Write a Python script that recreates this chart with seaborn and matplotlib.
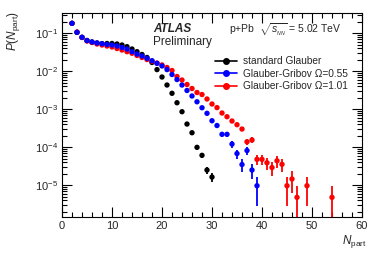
import numpy as np
import pandas as pd
import matplotlib
matplotlib.use("Agg")
import matplotlib.pyplot as plt
from matplotlib.lines import Line2D
from matplotlib.ticker import MultipleLocator, LogLocator, NullFormatter
import seaborn as sns

# standard Glauber
npart_std = list(range(2, 31))
p_std = [0.183, 0.106, 0.0785, 0.0646, 0.0590, 0.0556, 0.0532, 0.0539, 0.0539,
         0.0523, 0.0492, 0.0444, 0.0386, 0.0328, 0.0277, 0.0231, 0.0171,
         0.0111, 0.00708, 0.00436, 0.00264, 0.00149, 0.000865, 0.000410,
         0.000242, 0.000100, 0.0000616, 0.0000253, 0.0000165]
err_std = [0] * 23 + [2.3e-5, 1.7e-5, 1.1e-5, 8.8e-6, 5.6e-6, 4.6e-6]

# Glauber-Gribov Omega=0.55
npart_gg055 = list(range(2, 40))
p_gg055 = [0.183, 0.106, 0.0785, 0.0646, 0.0590, 0.0556, 0.0532, 0.0507, 0.0492,
           0.0463, 0.0423, 0.0386, 0.0328, 0.0285, 0.0253, 0.0220, 0.0190,
           0.0162, 0.0138, 0.0111, 0.00824, 0.00608, 0.00436, 0.00313,
           0.00224, 0.00158, 0.00110, 0.000785, 0.000501, 0.000375, 0.000220,
           0.000220, 0.000122, 0.0000687, 0.0000353, 0.0000824, 0.0000253,
           0.00000977]
err_gg055 = [0] * 28 + [4.9e-5, 4.2e-5, 3.2e-5, 3.2e-5, 2.4e-5, 1.8e-5, 1.3e-5,
                        2.0e-5, 1.1e-5, 6.9e-6]

# Glauber-Gribov Omega=1.01
npart_gg101 = list(range(2, 48)) + [49, 54]
p_gg101 = [0.183, 0.108, 0.0775, 0.0627, 0.0573, 0.0523, 0.0492, 0.0463, 0.0436,
           0.0398, 0.0363, 0.0328, 0.0298, 0.0261, 0.0231, 0.0204, 0.0184,
           0.0165, 0.0147, 0.0126, 0.0105, 0.00730, 0.00590, 0.00450, 0.00353,
           0.00277, 0.00245, 0.00187, 0.00138, 0.00111, 0.000800, 0.000639,
           0.000492, 0.000394, 0.000303, 0.000140, 0.000156, 0.0000483,
           0.0000483, 0.0000393, 0.0000294, 0.0000443, 0.0000357, 0.00000977,
           0.0000147, 0.00000483, 0.00000977, 0.00000483]
err_gg101 = [0] * 32 + [4.9e-5, 4.3e-5, 3.8e-5, 2.6e-5, 2.8e-5, 1.5e-5, 1.5e-5,
                        1.4e-5, 1.2e-5, 1.5e-5, 1.35e-5, 6.9e-6, 8.5e-6,
                        4.83e-6, 6.9e-6, 4.83e-6]

labels = ["standard Glauber", "Glauber-Gribov \u03a9=0.55", "Glauber-Gribov \u03a9=1.01"]
colors = ["black", "#0000ff", "#ff0000"]

df = pd.concat([
    pd.DataFrame({"npart": npart_std, "p": p_std, "err": err_std, "model": labels[0]}),
    pd.DataFrame({"npart": npart_gg101, "p": p_gg101, "err": err_gg101, "model": labels[2]}),
    pd.DataFrame({"npart": npart_gg055, "p": p_gg055, "err": err_gg055, "model": labels[1]}),
])

sns.set_theme(style="ticks")
plt.rcParams["font.family"] = ["Liberation Sans", "DejaVu Sans"]
plt.rcParams["mathtext.fontset"] = "custom"
plt.rcParams["mathtext.rm"] = "Liberation Sans"
plt.rcParams["mathtext.it"] = "Liberation Sans:italic"

fig = plt.figure(figsize=(3.82, 2.59), dpi=100)
ax = fig.add_axes([62 / 382, 1 - 217 / 259, 300 / 382, 204 / 259])

palette = dict(zip(labels, colors))
for name in [labels[0], labels[2], labels[1]]:
    sub = df[df["model"] == name]
    ax.errorbar(sub["npart"], sub["p"], yerr=sub["err"], fmt="none",
                ecolor=palette[name], elinewidth=1.3, capsize=0)
sns.scatterplot(data=df, x="npart", y="p", hue="model", palette=palette,
                s=15, edgecolor="none", legend=False, ax=ax)

ax.set_yscale("log")
ax.set_xlim(0, 60)
ax.set_ylim(1.47e-6, 0.342)
ax.set_xlabel("")
ax.set_ylabel("")

ax.xaxis.set_major_locator(MultipleLocator(10))
ax.xaxis.set_minor_locator(MultipleLocator(2))
ax.yaxis.set_major_locator(LogLocator(base=10, numticks=10))
ax.yaxis.set_minor_locator(LogLocator(base=10, subs=np.arange(2, 10), numticks=20))
ax.yaxis.set_minor_formatter(NullFormatter())
ax.tick_params(which="both", direction="in", top=True, right=True,
               labelsize=8, width=0.8, color="black", pad=3)
ax.tick_params(which="major", length=7)
ax.tick_params(which="minor", length=3.5)
for s in ax.spines.values():
    s.set_linewidth(0.8)
    s.set_color("black")

fig.text(14 / 382, 1 - 11 / 259, r"$P(N_{\mathrm{part}})$", rotation=90,
         ha="center", va="top", fontsize=8.5)
fig.text(367 / 382, 1 - 250 / 259, r"$N_{\mathrm{part}}$", ha="right",
         va="bottom", fontsize=8.5)

fig.text(153 / 382, 1 - 29 / 259, "ATLAS", fontsize=8.5, fontweight="bold",
         fontstyle="italic", va="center")
fig.text(153 / 382, 1 - 42 / 259, "Preliminary", fontsize=8.5, va="center")
fig.text(229 / 382, 1 - 30 / 259, r"p+Pb  $\sqrt{s_{_{NN}}}$ = 5.02 TeV",
         fontsize=7.5, va="center")

handles = [Line2D([0], [0], color=c, marker="o", markersize=4, lw=1.2)
           for c in colors]
ax.legend(handles, labels, loc="upper left", bbox_to_anchor=(148 / 300, 1 - 38 / 204),
          frameon=False, fontsize=7.3, handlelength=2.2, handletextpad=0.6,
          labelspacing=0.25, borderpad=0)

fig.savefig("out.png", dpi=100)
